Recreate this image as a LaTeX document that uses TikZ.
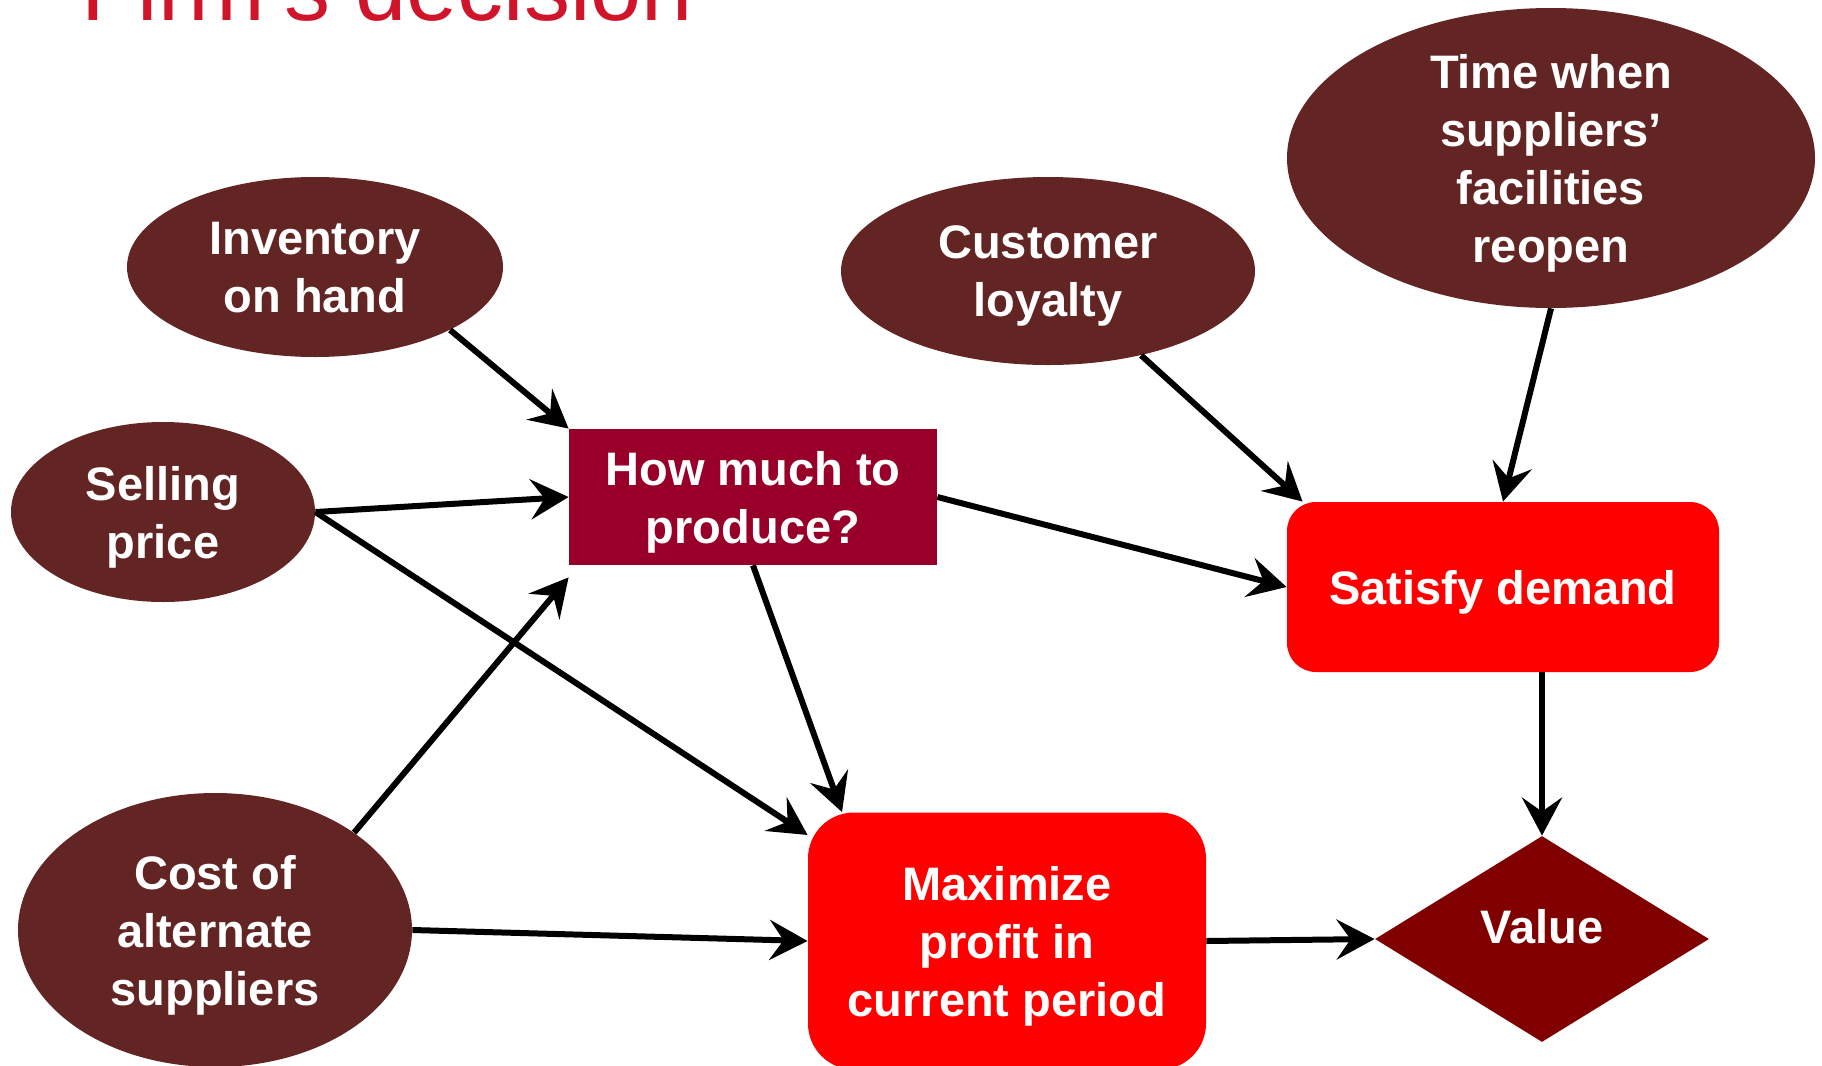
\documentclass[tikz,border=0pt]{standalone}
\usepackage{fontspec}
\setmainfont{Liberation Sans}
\usetikzlibrary{arrows.meta, shapes.geometric}
\definecolor{titlered}{RGB}{208,21,43}
\definecolor{causebrown}{RGB}{99,37,36}
\definecolor{choicecrimson}{RGB}{153,0,41}
\definecolor{valuemaroon}{RGB}{128,0,0}

\begin{document}
\begin{tikzpicture}[x={(0.5pt, 0pt)}, y={(0pt, -0.5pt)}]
  \tikzstyle{words}=[text=white, align=center, font=\bfseries\fontsize{23.5}{29}\selectfont, text depth=-2pt]
  \tikzstyle{chance}=[words, ellipse, fill=causebrown, inner sep=-6pt]
  \tikzstyle{choice}=[words, rectangle, fill=choicecrimson, inner sep=0pt]
  \tikzstyle{goal}=[words, rectangle, fill=red, inner sep=0pt]
  \tikzstyle{link}=[line width=3pt, -{Stealth[length=19pt, width=20pt, inset=7pt]}]

\useasboundingbox (0, 0) rectangle (1822, 1066);

\node[text=titlered, anchor=base west, inner sep=0pt, font=\fontsize{46}{55}\selectfont] (title) at (81, 20) {Firm’s decision};

\node[chance, minimum width=188pt, minimum height=90pt] (inv) at (315, 267) {Inventory\\on hand};
\node[chance, minimum width=152pt, minimum height=90pt] (sell) at (163, 512) {Selling\\price};
\node[chance, minimum width=197pt, minimum height=137pt] (cost) at (215, 930) {Cost of\\alternate\\suppliers};
\node[chance, minimum width=207pt, minimum height=94pt] (loyal) at (1048, 271) {Customer\\loyalty};
\node[chance, minimum width=264pt, minimum height=150pt] (reopen) at (1551, 158) {Time when\\suppliers’\\facilities\\reopen};

\node[choice, minimum width=184pt, minimum height=68pt] (how) at (753, 497) {How much to\\produce?};

\node[goal, rounded corners=14.5pt, minimum width=216pt, minimum height=85pt] (sat) at (1503, 587) {Satisfy demand};
\node[goal, rounded corners=23pt, minimum width=199pt, minimum height=128.5pt] (max) at (1007, 941) {Maximize\\profit in\\current period};

\node[words, diamond, fill=valuemaroon, inner sep=0pt, minimum width=167pt, minimum height=103pt, text depth=13pt] (val) at (1542, 939) {Value};

\draw[link] (inv.-25) -- (how.north west);
\draw[link] (sell.east) -- (how.west);
\draw[link] (sell.east) -- (max.152);
\draw[link] (cost.35) -- ([yshift=-6pt]how.south west);
\draw[link] (cost.east) -- (max.west);
\draw[link] (how.south) -- (max.142);
\draw[link] (how.east) -- (sat.west);
\draw[link] (loyal) -- ([xshift=8pt]sat.north west);
\draw[link] (reopen.south) -- (sat.north);
\draw[link] (sat.south -| val.north) -- (val.north);
\draw[link] (max.east) -- (val.west);
\end{tikzpicture}
\end{document}
